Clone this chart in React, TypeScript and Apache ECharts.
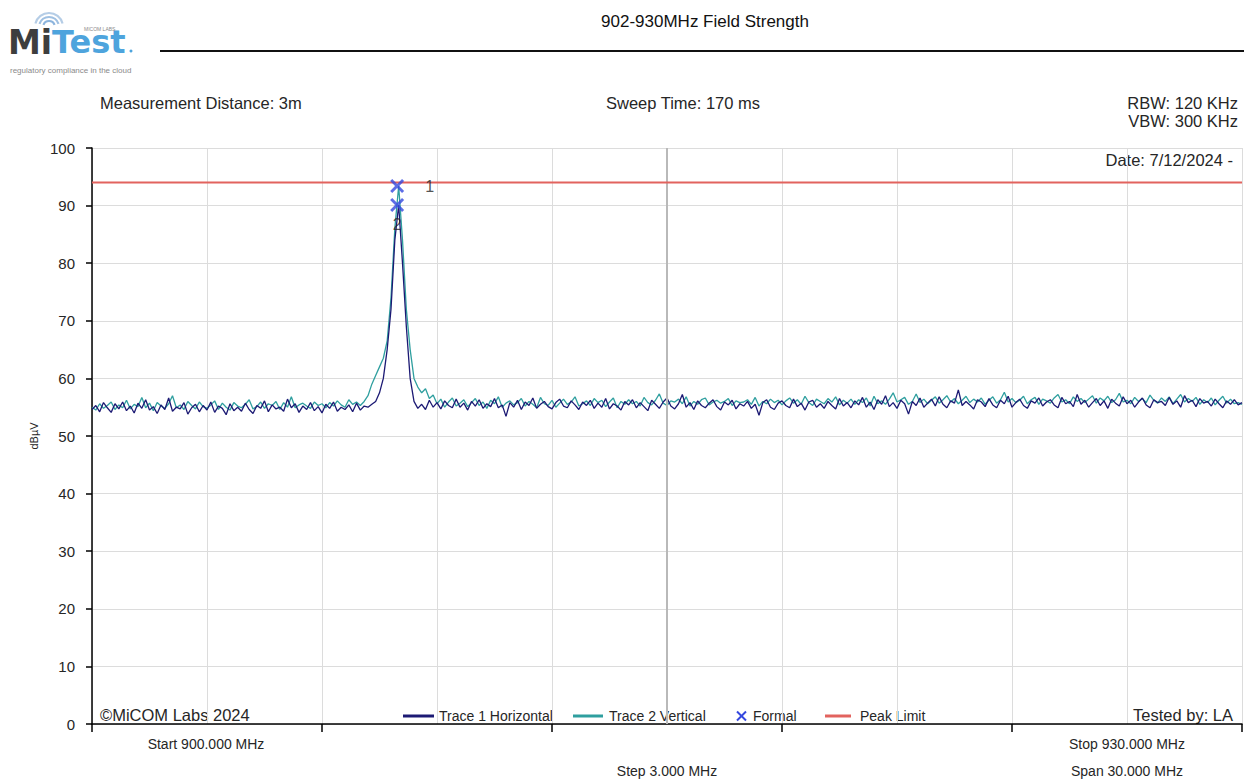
import React, { useEffect, useRef } from "react";
import * as echarts from "echarts";

// Sweep definition
const START_MHZ = 900;
const STOP_MHZ = 930;
const STEP_MHZ = 0.1;

// Trace 1 Horizontal (dBµV), 900.0 .. 930.0 MHz every 0.1 MHz
const trace1Horizontal = [
  54.6, 55.3, 54.2, 55.8, 54.9, 54.1, 55.6, 54.7, 55.9, 54.4,
  55.2, 54.0, 55.7, 54.8, 56.3, 54.5, 55.1, 53.9, 55.4, 54.6,
  56.6, 54.3, 55.0, 54.7, 55.8, 53.8, 54.9, 55.5, 54.2, 55.3,
  54.5, 55.9, 54.1, 55.2, 54.8, 53.7, 55.6, 54.4, 55.0, 54.3,
  55.7, 54.6, 53.9, 55.3, 54.8, 56.1, 54.2, 55.4, 54.7, 55.0,
  54.3, 56.4, 54.9, 55.6, 54.1, 55.2, 54.6, 55.8, 54.4, 55.1,
  54.0, 55.5, 54.8, 55.9, 54.3, 55.0, 54.6, 55.4, 54.2, 55.7,
  54.5, 55.2, 55.0, 55.5, 56.0, 57.5, 60.0, 65.0, 72.0, 84.0,
  90.1, 80.0, 69.0, 60.0, 56.0, 54.8, 55.5, 54.6, 56.2, 55.0,
  55.8, 54.7, 56.1, 55.3, 54.9, 56.4, 55.0, 55.7, 54.5, 56.0,
  55.2, 56.3, 54.8, 55.6, 55.1, 56.5, 54.9, 55.4, 53.4, 55.8,
  55.0, 56.2, 54.6, 55.9, 55.3, 56.6, 54.8, 55.5, 56.0, 55.1,
  54.7, 55.8, 56.4, 55.2, 54.9, 56.1, 55.4, 54.6, 55.9, 55.3,
  56.2, 54.8, 55.7, 55.0, 56.5, 54.7, 55.6, 55.2, 54.5, 56.0,
  55.4, 56.3, 54.9, 55.8, 55.1, 54.4, 56.2, 55.5, 54.8, 55.9,
  56.6, 55.2, 54.7, 55.6, 57.2, 55.0, 55.8, 54.6, 56.1, 55.3,
  54.9, 55.7, 56.3, 55.1, 54.5, 55.9, 55.4, 56.2, 54.7, 55.6,
  55.2, 56.0, 54.8, 55.5, 53.6, 55.8, 56.3, 55.0, 54.6, 55.7,
  56.1, 55.3, 54.9, 56.4, 55.1, 55.7, 54.5, 55.9, 56.2, 55.0,
  55.6, 54.8, 56.0, 55.3, 54.7, 56.5, 55.2, 55.8, 54.9, 56.1,
  55.4, 56.7, 55.0, 55.9, 54.6, 56.3, 55.5, 57.0, 55.1, 55.8,
  54.8, 56.2, 55.6, 53.8, 56.0, 55.3, 56.6, 55.0, 55.7, 56.4,
  55.2, 56.8, 55.5, 54.9, 56.1, 55.7, 58.0, 55.3, 56.0, 55.4,
  54.7, 56.3, 55.9, 55.1, 56.5, 55.4, 54.9, 56.2, 55.6, 56.9,
  55.0, 55.8, 56.4, 55.3, 54.8, 56.1, 55.7, 56.6, 55.2, 55.9,
  56.3, 55.4, 54.9, 56.7, 55.6, 56.0, 55.1, 57.2, 55.5, 56.2,
  55.0, 55.8, 56.5, 55.3, 56.1, 54.8, 56.4, 55.7, 55.2, 56.8,
  55.6, 56.2, 55.0, 55.9, 56.6, 55.4, 54.9, 56.3, 55.8, 56.0,
  55.3, 56.7, 55.5, 56.1, 55.0, 57.0, 55.8, 56.2, 55.1, 56.5,
  55.7, 56.0, 55.2, 56.4, 55.6, 54.9, 56.1, 55.5, 56.3, 55.4,
  55.8,
];

// Trace 2 Vertical (dBµV), same sweep points
const trace2Vertical = [
  55.0, 54.5, 55.6, 54.8, 55.3, 55.9, 54.6, 55.4, 54.9, 56.2,
  54.7, 55.5, 55.1, 56.7, 54.9, 55.7, 54.4, 55.8, 55.2, 54.8,
  55.6, 57.0, 54.9, 55.4, 54.6, 56.0, 55.3, 54.7, 55.9, 55.1,
  54.8, 55.4, 56.1, 54.6, 55.7, 55.0, 54.5, 55.8, 55.2, 54.9,
  55.5, 56.3, 54.7, 55.1, 55.9, 54.8, 55.6, 55.3, 56.0, 54.6,
  55.8, 55.0, 56.8, 54.9, 55.4, 55.7, 55.2, 54.8, 55.9, 55.3,
  55.6, 54.9, 55.8, 55.2, 56.1, 55.4, 55.0, 56.3, 55.5, 55.9,
  55.3, 56.0, 57.0, 59.0, 60.5, 62.0, 63.5, 66.5, 74.0, 86.0,
  93.4, 84.0, 72.0, 65.0, 60.0, 58.5, 57.5, 58.2, 56.5, 57.1,
  55.6, 56.4, 55.0, 55.9, 56.6, 55.2, 55.7, 56.3, 55.1, 55.8,
  56.5, 55.3, 55.9, 54.8, 56.2, 55.6, 56.8, 55.0, 55.7, 56.1,
  55.4, 55.8, 56.5, 55.2, 56.0, 55.5, 54.9, 56.7, 55.6, 55.3,
  56.2, 55.0, 55.7, 56.4, 55.5, 55.9, 56.8, 55.2, 55.6, 56.1,
  55.3, 56.5, 55.8, 56.2, 55.1, 55.9, 56.6, 54.9, 56.0, 55.5,
  56.3, 55.6, 56.0, 55.2, 56.7, 55.8, 55.4, 56.2, 57.3, 55.7,
  55.3, 56.1, 55.9, 56.4, 55.6, 56.8, 55.2, 56.0, 55.5, 56.3,
  56.6, 55.4, 55.9, 56.2, 55.7, 56.0, 56.5, 55.3, 56.1, 55.8,
  55.9, 56.3, 55.5, 56.7, 55.2, 56.0, 55.6, 56.4, 55.8, 56.2,
  55.4, 56.1, 56.6, 55.7, 56.3, 55.5, 56.9, 55.8, 55.3, 56.4,
  56.0, 55.6, 56.5, 55.9, 56.8, 55.4, 56.2, 55.7, 56.4, 55.5,
  56.3, 55.8, 56.6, 55.2, 56.9, 55.6, 56.1, 55.5, 56.4, 57.5,
  55.9, 56.3, 56.7, 55.5, 56.0, 57.3, 55.8, 56.4, 55.6, 56.2,
  56.8, 55.7, 56.3, 57.0, 55.9, 56.5, 55.6, 56.2, 56.9, 55.8,
  56.4, 55.9, 56.6, 55.5, 56.2, 56.8, 55.7, 56.3, 57.6, 55.9,
  56.5, 55.8, 56.2, 56.9, 55.6, 56.3, 56.7, 55.5, 56.4, 56.1,
  55.7, 56.6, 57.2, 55.9, 56.3, 55.6, 56.8, 56.0, 56.5, 55.8,
  56.4, 57.0, 55.7, 56.6, 56.1, 56.9, 55.8, 56.3, 57.4, 55.9,
  56.2, 55.6, 56.7, 56.0, 56.5, 55.8, 57.1, 56.2, 55.7, 56.6,
  56.0, 56.8, 55.6, 56.4, 57.2, 55.9, 56.5, 56.0, 56.7, 55.5,
  56.3, 55.8, 56.6, 55.4, 56.2, 56.9, 55.7, 56.4, 55.6, 55.8,
  55.5,
];

// Formal markers
const formalFreqs = [907.96, 907.96];
const formalValues = [93.4, 90.1];
const formalLabels = ["1", "2"];

// Peak limit
const peakLimit = 94;

// Legend entries
const legendNames = ["Trace 1 Horizontal", "Trace 2 Vertical", "Formal", "Peak Limit"];

// Axis ranges
const yMin = 0;
const yMax = 100;
const yStep = 10;
const xTickStep = 6;
const xGridStep = 3;
const centerGridMHz = 915;

const FONT = "Arial, 'Liberation Sans', sans-serif";
const LOGO_FONT = "'DejaVu Sans', sans-serif";
const TXT = "#262626";
const NAVY = "#1c1a74";
const TEAL = "#2f9f9f";
const MARK_BLUE = "#3548df";
const LIMIT_RED = "#e2635e";

const CROSS =
  "path://M1.5,0 L5,3.5 L8.5,0 L10,1.5 L6.5,5 L10,8.5 L8.5,10 L5,6.5 L1.5,10 L0,8.5 L3.5,5 L0,1.5 Z";

export default function App() {
  const ref = useRef<HTMLDivElement>(null);

  useEffect(() => {
    document.body.style.margin = "0";
    if (!ref.current) return;
    const chart = echarts.init(ref.current, null, { renderer: "svg" });

    const freqs = trace1Horizontal.map((_, i) => +(START_MHZ + i * STEP_MHZ).toFixed(2));
    const t1 = freqs.map((f, i) => [f, trace1Horizontal[i]]);
    const t2 = freqs.map((f, i) => [f, trace2Vertical[i]]);

    const formalData = formalFreqs.map((f, i) => ({
      value: [f, formalValues[i]],
      label:
        i === 0
          ? { show: true, position: "right", distance: 21, formatter: formalLabels[i] }
          : { show: true, position: "bottom", distance: 4, formatter: formalLabels[i] },
    }));

    const txt = (x: number, y: number, text: string, size: number, align = "left", extra: any = {}) => ({
      type: "text",
      x,
      y,
      silent: true,
      style: {
        text,
        fill: TXT,
        fontSize: size,
        fontFamily: FONT,
        align,
        verticalAlign: "middle",
        ...extra,
      },
    });
    const seg = (x1: number, y1: number, x2: number, y2: number, stroke: string, lineWidth: number) => ({
      type: "line",
      silent: true,
      shape: { x1, y1, x2, y2 },
      style: { stroke, lineWidth },
    });

    const LY = 716;
    const legendGraphics = [
      seg(403, LY, 434, LY, NAVY, 3),
      txt(439, LY, legendNames[0], 14),
      seg(573, LY, 603, LY, TEAL, 3),
      txt(609, LY, legendNames[1], 14),
      seg(737, LY - 4.5, 746, LY + 4.5, MARK_BLUE, 2),
      seg(746, LY - 4.5, 737, LY + 4.5, MARK_BLUE, 2),
      txt(753, LY, legendNames[2], 14),
      seg(825, LY, 851, LY, LIMIT_RED, 3),
      txt(860, LY, legendNames[3], 14),
    ];

    const option: any = {
      animation: false,
      backgroundColor: "#ffffff",
      textStyle: { fontFamily: FONT },
      grid: { left: 92, right: 2, top: 148, bottom: 58, containLabel: false },
      legend: { show: false, data: legendNames },
      xAxis: {
        type: "value",
        position: "bottom",
        min: START_MHZ,
        max: STOP_MHZ,
        interval: xTickStep,
        axisLine: { show: true, onZero: false, lineStyle: { color: "#000", width: 1.5 } },
        axisTick: { show: true, length: 8, lineStyle: { color: "#000", width: 1.5 } },
        axisLabel: { show: false },
        splitLine: { show: true, lineStyle: { color: "#dcdcdc", width: 1 } },
        minorTick: { show: false, splitNumber: xTickStep / xGridStep },
        minorSplitLine: { show: true, lineStyle: { color: "#dcdcdc", width: 1 } },
      },
      yAxis: {
        type: "value",
        min: yMin,
        max: yMax,
        interval: yStep,
        name: "dBµV",
        nameLocation: "middle",
        nameGap: 52,
        nameRotate: 90,
        nameTextStyle: { fontSize: 11, color: TXT, fontFamily: FONT },
        axisLine: { show: true, lineStyle: { color: "#000", width: 1.5 } },
        axisTick: { show: true, length: 6, lineStyle: { color: "#000", width: 1.5 } },
        axisLabel: { fontSize: 15, color: TXT, margin: 17, fontFamily: FONT },
        splitLine: { show: true, lineStyle: { color: "#dcdcdc", width: 1 } },
      },
      series: [
        {
          name: "center grid",
          type: "line",
          data: [],
          silent: true,
          z: 1,
          markLine: {
            silent: true,
            symbol: "none",
            label: { show: false },
            lineStyle: { color: "#b9b9b9", width: 2, type: "solid" },
            data: [{ xAxis: centerGridMHz }],
          },
        },
        {
          name: legendNames[1],
          type: "line",
          data: t2,
          symbol: "none",
          z: 3,
          color: TEAL,
          lineStyle: { color: TEAL, width: 1.3 },
        },
        {
          name: legendNames[0],
          type: "line",
          data: t1,
          symbol: "none",
          z: 4,
          color: NAVY,
          lineStyle: { color: NAVY, width: 1.3 },
        },
        {
          name: legendNames[3],
          type: "line",
          data: [
            [START_MHZ, peakLimit],
            [STOP_MHZ, peakLimit],
          ],
          symbol: "none",
          z: 5,
          color: LIMIT_RED,
          lineStyle: { color: LIMIT_RED, width: 2 },
        },
        {
          name: legendNames[2],
          type: "scatter",
          data: formalData,
          symbol: CROSS,
          symbolSize: 14,
          z: 6,
          itemStyle: { color: MARK_BLUE },
          label: { fontSize: 16, color: TXT, fontFamily: FONT },
        },
      ],
      graphic: [
        // Logo: wifi arcs
        { type: "arc", silent: true, shape: { cx: 49, cy: 27, r: 14, startAngle: -Math.PI * 0.92, endAngle: -Math.PI * 0.08 }, style: { stroke: "#b5cde6", lineWidth: 2.2, fill: "none" } },
        { type: "arc", silent: true, shape: { cx: 49, cy: 27, r: 10, startAngle: -Math.PI * 0.9, endAngle: -Math.PI * 0.1 }, style: { stroke: "#9fc0e2", lineWidth: 2.2, fill: "none" } },
        { type: "arc", silent: true, shape: { cx: 49, cy: 27, r: 6, startAngle: -Math.PI * 0.88, endAngle: -Math.PI * 0.12 }, style: { stroke: "#8cb4dd", lineWidth: 2.2, fill: "none" } },
        txt(8, 42, "Mi", 33, "left", { fill: "#3e3e3e", fontWeight: "bold", fontFamily: LOGO_FONT, lineHeight: 20 }),
        txt(52, 42, "Test", 32, "left", { fill: "#4ea4dd", fontWeight: "bold", fontFamily: LOGO_FONT, lineHeight: 20 }),
        { type: "circle", silent: true, shape: { cx: 131, cy: 51, r: 1.5 }, style: { fill: "#4ea4dd" } },
        txt(84, 28.5, "MICOM LABS", 5, "left", { fill: "#8a8a8a", lineHeight: 5 }),
        txt(10, 70, "regulatory compliance in the cloud", 8, "left", { fill: "#8a8a8a" }),
        // Title and rule
        txt(705, 21, "902-930MHz Field Strength", 17, "center", { fill: "#111" }),
        seg(160, 51, 1244, 51, "#111", 2),
        // Header info
        txt(100, 103, "Measurement Distance: 3m", 16.5),
        txt(683, 103, "Sweep Time: 170 ms", 16.5, "center"),
        txt(1238, 103, "RBW: 120 KHz", 16.5, "right"),
        txt(1238, 121, "VBW: 300 KHz", 16.5, "right"),
        // In-plot notes
        txt(1233, 160, "Date: 7/12/2024 -", 16.5, "right"),
        txt(100, 715, "©MiCOM Labs 2024", 16.5),
        txt(1233, 715, "Tested by: LA", 16.5, "right"),
        // Legend
        ...legendGraphics,
        // Sweep info under axis
        txt(206, 744, "Start 900.000 MHz", 14, "center"),
        txt(1127, 744, "Stop 930.000 MHz", 14, "center"),
        txt(667, 771, "Step 3.000 MHz", 14, "center"),
        txt(1127, 771, "Span 30.000 MHz", 14, "center"),
      ],
    };

    chart.setOption(option);
    return () => chart.dispose();
  }, []);

  return <div ref={ref} style={{ width: 1244, height: 782 }} />;
}
